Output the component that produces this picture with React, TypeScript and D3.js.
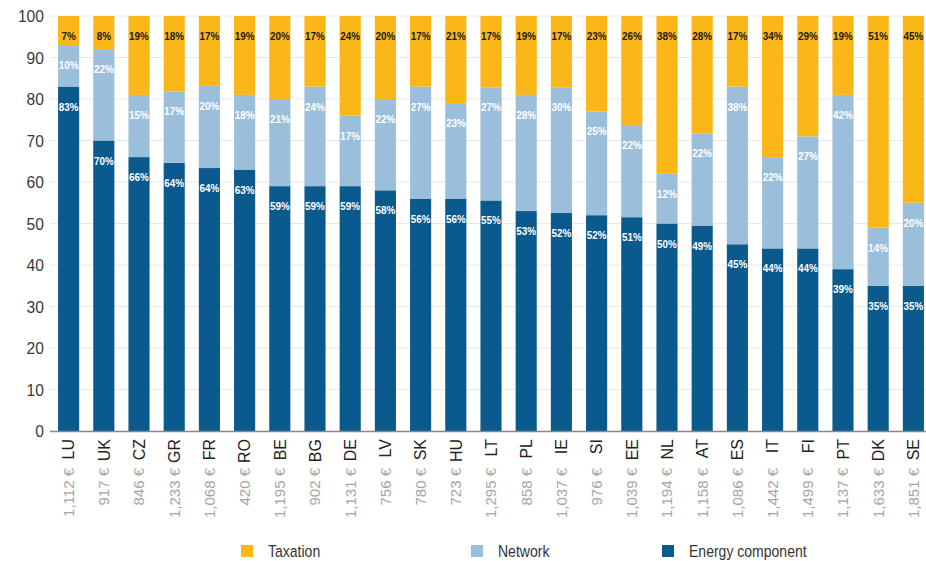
import React from "react";
import * as d3 from "d3";

const countries = ["LU","UK","CZ","GR","FR","RO","BE","BG","DE","LV","SK","HU","LT","PL","IE","SI","EE","NL","AT","ES","IT","FI","PT","DK","SE"];
const prices = ["1,112 €","917 €","846 €","1,233 €","1,068 €","420 €","1,195 €","902 €","1,131 €","756 €","780 €","723 €","1,295 €","858 €","1,037 €","976 €","1,039 €","1,194 €","1,158 €","1,086 €","1,442 €","1,499 €","1,137 €","1,633 €","1,851 €"];
const energy = [83,70,66,64,64,63,59,59,59,58,56,56,55,53,52,52,51,50,49,45,44,44,39,35,35];
const network = [10,22,15,17,20,18,21,24,17,22,27,23,27,28,30,25,22,12,22,38,22,27,42,14,20];
const taxation = [7,8,19,18,17,19,20,17,24,20,17,21,17,19,17,23,26,38,28,17,34,29,19,51,45];
const yTicks = [0,10,20,30,40,50,60,70,80,90,100];

const seriesKeys = ["energy","network","taxation"];
const seriesNames = ["Energy component","Network","Taxation"];
const colors: Record<string,string> = { energy: "#0b5a8d", network: "#9bbfdb", taxation: "#fbb617" };
const labelColors: Record<string,string> = { energy: "#ffffff", network: "#ffffff", taxation: "#1a1a1a" };

const W = 926, H = 561;
const FONT = "'Liberation Sans',Arial,sans-serif";

export default function App() {
  const rows = countries.map((c, i) => ({ c, energy: energy[i], network: network[i], taxation: taxation[i] }));
  const stacked = d3.stack<any>().keys(seriesKeys).offset(d3.stackOffsetExpand)(rows);
  const x = d3.scaleBand<string>().domain(countries).range([47.5, 934.5]).paddingInner(0.4).paddingOuter(0.3);
  const y = d3.scaleLinear().domain([0, 1]).range([431, 16]);
  const yT = d3.scaleLinear().domain([0, 100]).range([431, 16]);
  const bw = x.bandwidth();
  const legendOrder = ["taxation","network","energy"];
  const legendX = [241, 471, 662];

  return (
    <div style={{ position: "fixed", left: 0, top: 0, width: W, height: H, background: "#fff" }}>
      <svg width={W} height={H} style={{ display: "block" }}>
        <rect width={W} height={H} fill="#fff" />
        {yTicks.map((t) => (
          <g key={t}>
            {t > 0 && <line x1={50} x2={926} y1={yT(t)} y2={yT(t)} stroke="#e8e8e8" strokeWidth={1} />}
            <text transform={`translate(44,${yT(t)}) scale(0.92,1)`} dy="0.36em" textAnchor="end" fontFamily={FONT} fontSize={17} fill="#3a3a3a">{t}</text>
          </g>
        ))}
        {stacked.map((s) => (
          <g key={s.key}>
            {s.map((d, i) => (
              <rect key={i} x={x(countries[i])} width={bw} y={y(d[1])} height={y(d[0]) - y(d[1])} fill={colors[s.key]} />
            ))}
          </g>
        ))}
        {stacked.map((s) => (
          <g key={s.key + "l"}>
            {s.map((d, i) => (
              <text key={i} transform={`translate(${(x(countries[i]) as number) + bw / 2},${y(d[1]) + 24}) scale(0.9,1)`} textAnchor="middle"
                fontFamily={FONT} fontWeight="bold" fontSize={11}
                fill={labelColors[s.key]}>{(d.data as any)[s.key]}%</text>
            ))}
          </g>
        ))}
        <line x1={50} x2={926} y1={431.5} y2={431.5} stroke="#888" strokeWidth={1.5} />
        {countries.map((c, i) => {
          const cx = (x(c) as number) + bw / 2;
          return (
            <g key={c}>
              <text transform={`translate(${cx},439) rotate(-90)`} dy="0.36em" textAnchor="end"
                fontFamily={FONT} fontSize={16} fill="#222">{c}</text>
              <text transform={`translate(${cx},468) rotate(-90)`} dy="0.36em" textAnchor="end"
                fontFamily={FONT} fontSize={15} fill="#a5a5a5">{prices[i]}</text>
            </g>
          );
        })}
        {legendOrder.map((k, i) => (
          <g key={k} transform={`translate(${legendX[i]},545)`}>
            <rect width={12} height={12} fill={colors[k]} />
            <text transform="translate(27,6) scale(0.85,1)" dy="0.36em" fontFamily={FONT} fontSize={16.5} fill="#333">
              {seriesNames[seriesKeys.indexOf(k)]}
            </text>
          </g>
        ))}
      </svg>
    </div>
  );
}
